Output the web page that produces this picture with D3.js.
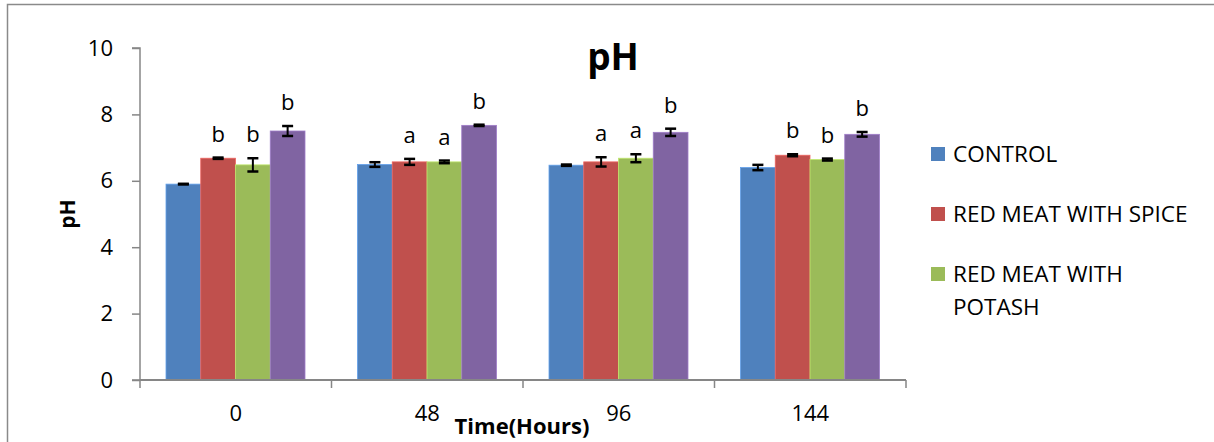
<!DOCTYPE html>
<html><head><meta charset="utf-8">
<script src="https://cdn.jsdelivr.net/npm/d3@7"></script>
<style>body{margin:0;background:#fff}svg{display:block}text{font-family:"Open Sans","Noto Sans",sans-serif}</style>
</head><body><svg id="c" width="1214" height="442"></svg>
<script>
const categories = ["0", "48", "96", "144"];
const seriesNames = ["CONTROL", "RED MEAT WITH SPICE", "RED MEAT WITH POTASH", "RED MEAT WITH SPICE AND POTASH"];
const legendNames = ["CONTROL", "RED MEAT WITH SPICE", "RED MEAT WITH\nPOTASH"];
const control   = [5.90, 6.49, 6.47, 6.40];
const spice     = [6.68, 6.57, 6.57, 6.77];
const potash    = [6.48, 6.57, 6.68, 6.64];
const combined  = [7.50, 7.67, 7.46, 7.40];
const controlErr  = [0.01, 0.07, 0.02, 0.08];
const spiceErr    = [0.02, 0.09, 0.14, 0.03];
const potashErr   = [0.20, 0.04, 0.12, 0.03];
const combinedErr = [0.15, 0.02, 0.11, 0.07];
const controlLbl  = ["", "", "", ""];
const spiceLbl    = ["b", "a", "a", "b"];
const potashLbl   = ["b", "a", "a", "b"];
const combinedLbl = ["b", "b", "b", "b"];
const yTicks = [0, 2, 4, 6, 8, 10];
const colors = ["#4F81BD", "#C0504D", "#9BBB59", "#8064A2"];

const values = [control, spice, potash, combined];
const errs = [controlErr, spiceErr, potashErr, combinedErr];
const lbls = [controlLbl, spiceLbl, potashLbl, combinedLbl];

const svg = d3.select("#c");
svg.append("path").attr("d", "M7.5,442 V4.5 H1214").attr("fill", "none").attr("stroke", "#8a8a8a").attr("stroke-width", 1.5);

const L = 140, R = 906, T = 48, B = 380;
const x0 = d3.scaleBand().domain(categories).range([L, R]).padding(0);
const x1 = d3.scaleBand().domain(d3.range(4)).range([26, x0.bandwidth() - 26.5]).padding(0);
const y = d3.scaleLinear().domain([0, 10]).range([B, T]);

const g = svg.append("g");
categories.forEach((c, ci) => {
  values.forEach((s, si) => {
    const bx = x0(c) + x1(si), bw = x1.bandwidth();
    g.append("rect").attr("x", bx).attr("y", y(s[ci])).attr("width", bw).attr("height", B - y(s[ci]))
      .attr("fill", colors[si]).attr("stroke", d3.color(colors[si]).brighter(0.6)).attr("stroke-width", 0.8);
  });
});
categories.forEach((c, ci) => {
  values.forEach((s, si) => {
    const cx = x0(c) + x1(si) + x1.bandwidth() / 2;
    const v = s[ci], e = errs[si][ci];
    const eg = svg.append("g").attr("stroke", "#000");
    eg.append("line").attr("x1", cx).attr("x2", cx).attr("y1", y(v + e)).attr("y2", y(v - e)).attr("stroke-width", 2);
    eg.append("line").attr("x1", cx - 5.5).attr("x2", cx + 5.5).attr("y1", y(v + e)).attr("y2", y(v + e)).attr("stroke-width", 2.5);
    eg.append("line").attr("x1", cx - 5.5).attr("x2", cx + 5.5).attr("y1", y(v - e)).attr("y2", y(v - e)).attr("stroke-width", 2.5);
    const t = lbls[si][ci];
    if (t) svg.append("text").attr("x", cx).attr("y", y(v + e) - 16).attr("text-anchor", "middle")
      .attr("font-size", 22).attr("fill", "#000").text(t);
  });
});

const ya = svg.append("g").attr("transform", `translate(${L},0)`)
  .call(d3.axisLeft(y).tickValues(yTicks).tickSize(8).tickPadding(19));
ya.select(".domain").attr("stroke", "#868686").attr("stroke-width", 1.5).attr("d", `M-8,${T}H0V${B}H-8`);
ya.selectAll(".tick line").attr("stroke", "#868686").attr("stroke-width", 1.5);
ya.selectAll(".tick text").attr("font-size", 22).attr("fill", "#000").attr("font-family", "Open Sans");

const xa = svg.append("g").attr("transform", `translate(0,${B})`)
  .call(d3.axisBottom(x0).tickSize(0).tickPadding(25));
xa.select(".domain").attr("stroke", "#868686").attr("stroke-width", 2).attr("d", `M${L},0H${R}`);
xa.selectAll(".tick text").attr("font-size", 22).attr("fill", "#000").attr("font-family", "Open Sans");
const bounds = categories.map(c => x0(c)).concat([R]);
xa.selectAll(".sep").data(bounds).enter().append("line").attr("class", "sep")
  .attr("x1", d => d).attr("x2", d => d).attr("y1", 0).attr("y2", 8).attr("stroke", "#868686").attr("stroke-width", 1.5);

svg.append("text").attr("x", 613).attr("y", 70).attr("text-anchor", "middle").attr("font-size", 37).attr("font-weight", "bold").text("pH");
svg.append("text").attr("x", 522).attr("y", 434).attr("text-anchor", "middle").attr("font-size", 22).attr("font-weight", "bold").text("Time(Hours)");
svg.append("text").attr("transform", "translate(75,214) rotate(-90)").attr("text-anchor", "middle").attr("font-size", 21).attr("font-weight", "bold").text("pH");

const legY = [154, 214, 274];
legendNames.forEach((n, i) => {
  svg.append("rect").attr("x", 931).attr("y", legY[i] - 7).attr("width", 14).attr("height", 14).attr("fill", colors[i]);
  const lines = n.split("\n");
  lines.forEach((ln, li) => {
    svg.append("text").attr("x", 953).attr("y", legY[i] + 8 + li * 33).attr("font-size", 22.5).attr("fill", "#000").text(ln);
  });
});
</script></body></html>
